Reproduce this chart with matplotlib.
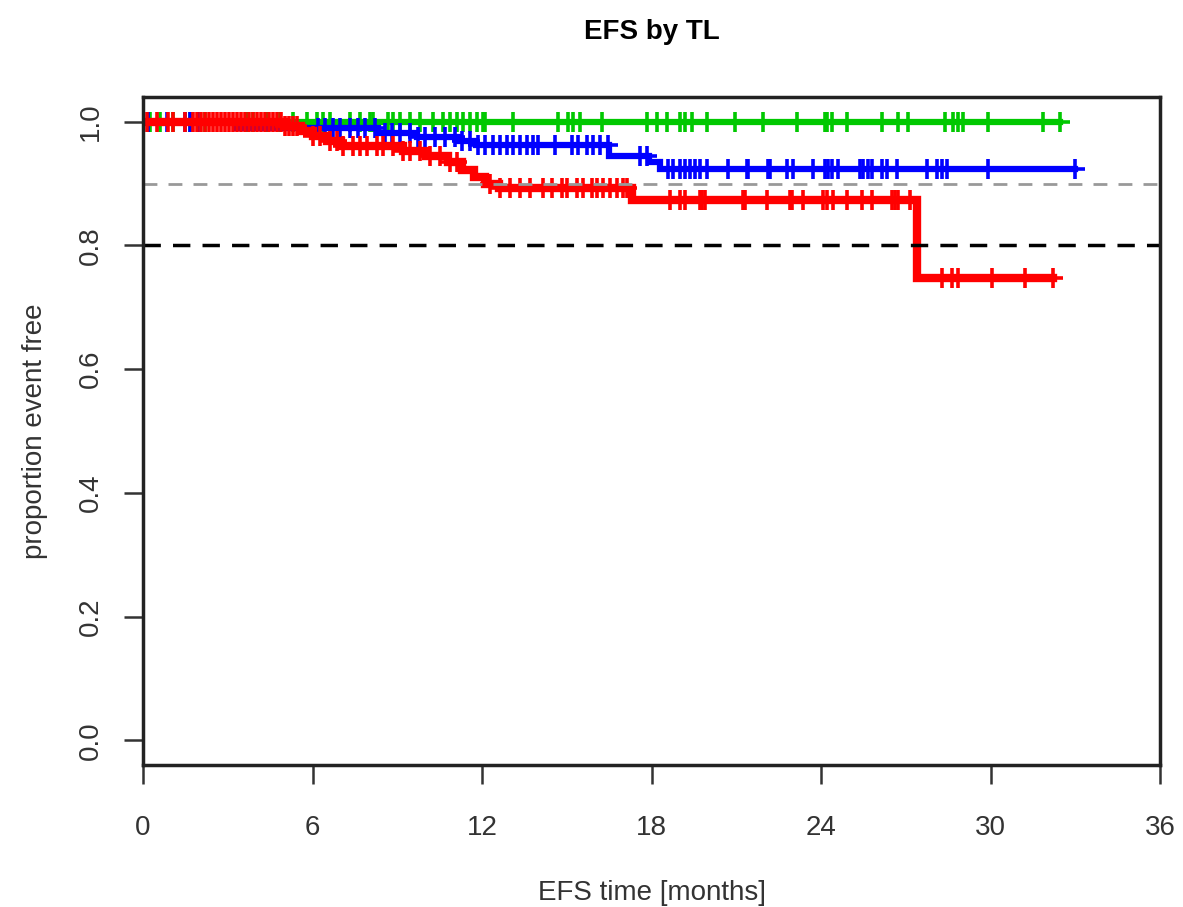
import matplotlib
matplotlib.use("Agg")
import matplotlib.pyplot as plt
import numpy as np

plt.rcParams['font.family'] = ['Liberation Sans', 'DejaVu Sans']

# step curves: (event times, survival after event)
green_event_t = [0.0]
green_event_s = [1.0]
green_cens_t = [0.25, 0.6, 1.06, 1.66, 2.19, 3.68, 3.89, 4.39, 4.85, 5.31, 5.81, 6.16, 6.37, 6.62,
                7.33, 7.68, 8.04, 8.14, 8.67, 8.85, 9.1, 9.45, 9.8, 10.26, 10.62, 10.87, 11.12,
                11.33, 11.58, 11.82, 12.04, 12.11, 13.1, 14.69, 15.04, 15.22, 15.47, 16.25, 17.84,
                18.19, 18.54, 19.01, 19.19, 19.43, 19.96, 20.96, 21.95, 23.15, 24.14, 24.21, 24.39,
                24.92, 26.16, 26.73, 27.08, 28.39, 28.67, 28.85, 29.03, 29.91, 31.86, 32.46]

blue_event_t = [0.0, 3.3, 8.3, 9.7, 11.2, 11.8, 16.5, 17.9, 18.3]
blue_event_s = [1.0, 0.990, 0.982, 0.975, 0.968, 0.962, 0.945, 0.935, 0.924]
blue_cens_t = [0.18, 0.85, 1.49, 1.66, 1.95, 6.19, 6.44, 6.73, 6.97, 7.33, 7.61, 7.86, 8.21, 8.57,
               8.81, 9.1, 9.45, 9.73, 9.98, 10.34, 10.69, 11.04, 11.29, 11.58, 11.86, 12.11, 12.39,
               12.64, 12.88, 13.1, 13.35, 13.59, 13.81, 13.98, 14.58, 15.19, 15.4, 15.72, 15.93,
               16.18, 16.46, 17.6, 17.84, 18.58, 18.76, 19.01, 19.19, 19.36, 19.54, 19.72,
               19.96, 20.71, 21.38, 21.42, 22.12, 22.19, 22.8, 23.01, 23.72, 24.14, 24.25, 24.39,
               24.6, 25.38, 25.49, 25.66, 25.81, 26.16, 26.34, 26.69, 27.75, 28.11, 28.28, 28.46,
               29.91, 33.0]

red_event_t = [0.0, 5.0, 5.6, 6.0, 6.5, 7.0, 9.2, 10.0, 10.8, 11.3, 11.7, 12.1, 12.6, 17.3, 27.4]
red_event_s = [1.0, 0.993, 0.985, 0.977, 0.968, 0.960, 0.952, 0.944, 0.935, 0.922, 0.910, 0.900,
               0.892, 0.873, 0.747]
red_cens_t = [0.14, 0.5, 0.88, 1.06, 1.49, 1.77, 1.91, 2.05, 2.19, 2.34, 2.48, 2.62, 2.76, 2.9,
              3.04, 3.19, 3.33, 3.47, 3.61, 3.75, 3.89, 4.04, 4.18, 4.32, 4.46, 4.6, 4.74, 4.88,
              5.03, 5.17, 5.31, 5.45, 6.02, 6.27, 6.62, 6.87, 7.08, 7.43, 7.68, 7.93, 8.28, 8.5,
              8.85, 9.2, 9.45, 9.8, 10.16, 10.51, 10.87, 11.12, 12.28, 12.64, 12.99, 13.35, 13.7,
              14.16, 14.48, 14.83, 15.01, 15.36, 15.58, 15.89, 16.07, 16.28, 16.53, 16.78, 16.99,
              17.13, 18.65, 19.01, 19.19, 19.72, 19.79, 19.89, 21.24, 21.31, 22.09, 22.9, 22.97,
              23.36, 24.07, 24.21, 24.42, 24.92, 25.45, 25.81, 26.51, 26.62, 26.73, 27.15, 28.28,
              28.64, 28.85, 30.05, 31.22, 32.21]

x_ticks = [0, 6, 12, 18, 24, 30, 36]
y_ticks = [0.0, 0.2, 0.4, 0.6, 0.8, 1.0]


def draw_km(ax, ev_t, ev_s, cens_t, color, lw):
    end = max(cens_t)
    xs = list(ev_t) + [end]
    ys = list(ev_s) + [ev_s[-1]]
    ax.step(xs, ys, where='post', color=color, lw=lw, solid_joinstyle='miter')
    ev_t = np.array(ev_t)
    ev_s = np.array(ev_s)
    cy = [ev_s[np.searchsorted(ev_t, t, side='right') - 1] for t in cens_t]
    ax.plot(cens_t, cy, '+', color=color, ms=15, mew=2.6, ls='none')


fig = plt.figure(figsize=(11.83, 9.07), dpi=100)
ax = fig.add_axes([0.1209, 0.1566, 0.8597, 0.7365])

draw_km(ax, green_event_t, green_event_s, green_cens_t, '#00C800', 4.5)
draw_km(ax, blue_event_t, blue_event_s, blue_cens_t, '#0000FF', 4.5)
draw_km(ax, red_event_t, red_event_s, red_cens_t, '#FF0000', 6)

ax.axhline(0.9, color='#999999', lw=2, ls=(0, (5, 4)))
ax.axhline(0.8, color='black', lw=2.5, ls=(0, (5, 3.5)))

ax.set_xlim(0, 36)
ax.set_ylim(-0.04, 1.04)
ax.set_xticks(x_ticks)
ax.set_yticks(y_ticks)
ax.set_xticklabels([str(v) for v in x_ticks], fontsize=20)
ax.set_yticklabels(['%.1f' % v for v in y_ticks], fontsize=20, rotation=90, va='center')
ax.tick_params(axis='x', length=14, width=1.8, pad=22, color='#333333', labelcolor='#333333')
ax.tick_params(axis='y', length=14, width=1.8, pad=14, color='#333333', labelcolor='#333333')
for s in ax.spines.values():
    s.set_linewidth(2.5)
    s.set_color('#222222')

ax.set_xlabel('EFS time [months]', fontsize=20, labelpad=28, color='#333333')
ax.set_ylabel('proportion event free', fontsize=20, labelpad=22, color='#333333')
ax.set_title('EFS by TL', fontsize=20, fontweight='bold', pad=42)

fig.savefig('out.png', dpi=100)
